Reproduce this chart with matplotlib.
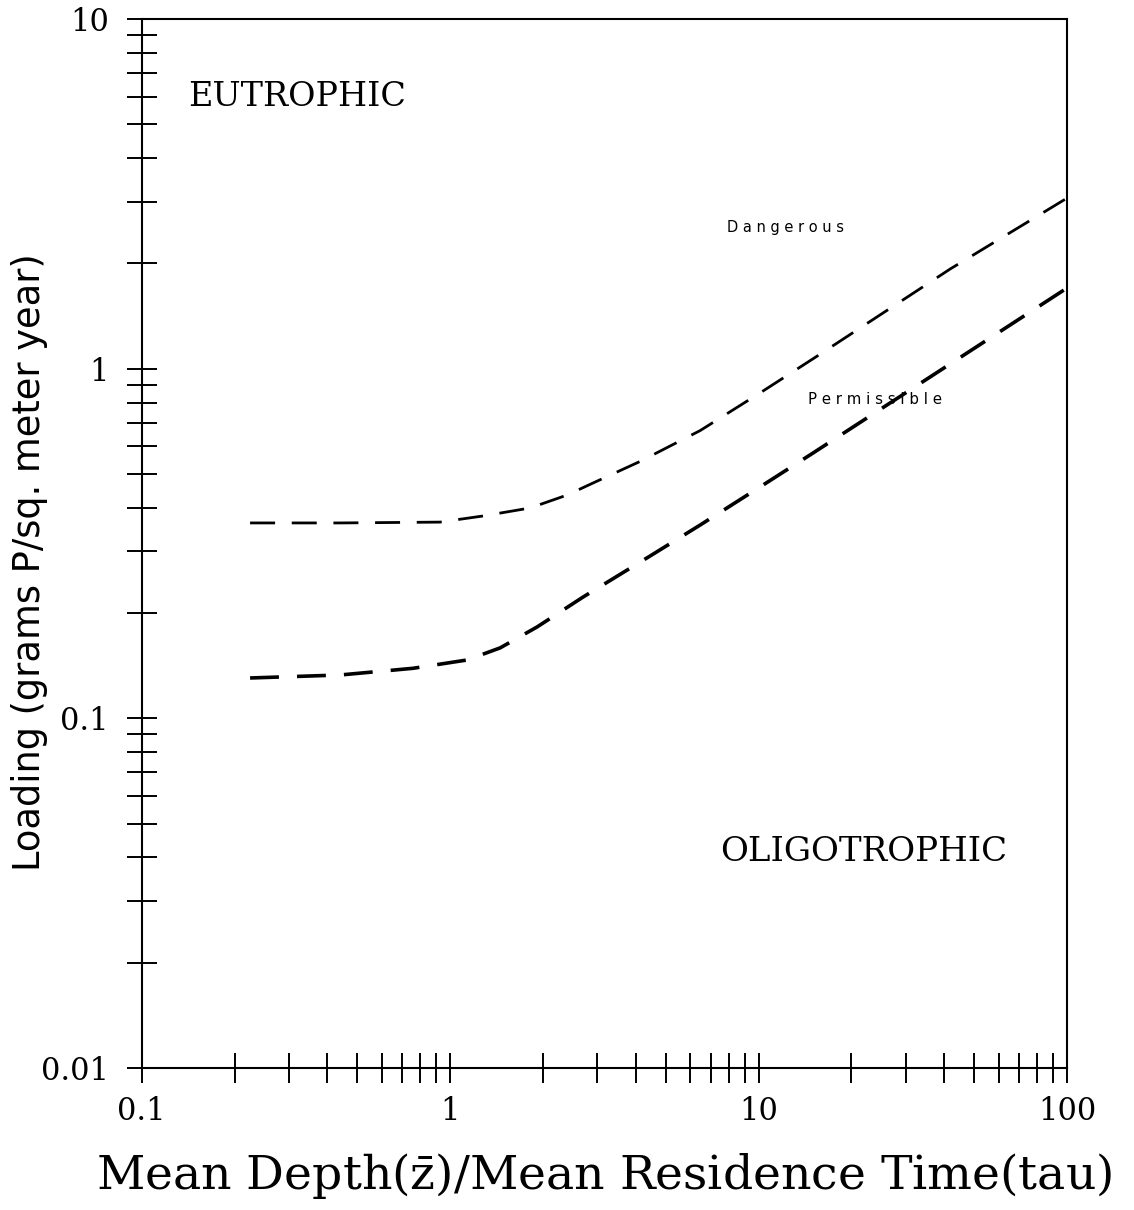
import matplotlib.pyplot as plt

# phosphorus loading limits vs. mean depth / residence time
ratio_dangerous = [0.2245, 0.4395, 0.927, 1.278, 1.816, 2.393, 2.906, 4.13, 6.46, 10.1, 15.5, 41.8, 100]
load_dangerous = [0.362, 0.362, 0.364, 0.379, 0.3995, 0.435, 0.471, 0.543, 0.665, 0.852, 1.087, 1.928, 3.075]

ratio_permissible = [0.2245, 0.4395, 0.758, 1.134, 1.452, 1.913, 2.698, 4.448, 6.46, 10.1, 15.02, 30.3, 100]
load_permissible = [0.1304, 0.133, 0.139, 0.1468, 0.159, 0.1825, 0.2223, 0.2912, 0.357, 0.4587, 0.574, 0.858, 1.701]

x_ticklabels = ["0.1", "1", "10", "100"]
y_ticklabels = ["0.01", "0.1", "1", "10"]

plt.rcParams["mathtext.fontset"] = "dejavuserif"

fig = plt.figure(figsize=(11.34, 12.10), dpi=100)
ax = fig.add_axes([0.125, 0.1174, 0.816, 0.8669])

ax.plot(ratio_dangerous, load_dangerous, color="black", lw=2.0, dashes=(9, 6))
ax.plot(ratio_permissible, load_permissible, color="black", lw=2.6, dashes=(8, 5))

ax.set_xscale("log")
ax.set_yscale("log")
ax.set_xlim(0.1, 100)
ax.set_ylim(0.01, 10)

ax.set_xticks([0.1, 1, 10, 100])
ax.set_xticklabels(x_ticklabels)
ax.set_yticks([0.01, 0.1, 1, 10])
ax.set_yticklabels(y_ticklabels)

for axis in (ax.xaxis, ax.yaxis):
    axis.set_minor_locator(plt.matplotlib.ticker.LogLocator(base=10, subs=range(2, 10)))
    axis.set_minor_formatter(plt.NullFormatter())

ax.tick_params(which="both", direction="inout", length=21, width=1.4, top=False, right=False)
ax.tick_params(axis="x", which="major", pad=10, labelsize=22)
ax.tick_params(axis="y", which="major", pad=13, labelsize=22)
for lab in ax.get_xticklabels() + ax.get_yticklabels():
    lab.set_family("DejaVu Serif")

for side in ax.spines.values():
    side.set_linewidth(1.5)

ax.set_xlabel(r"Mean Depth($\bar{\mathrm{z}}$)/Mean Residence Time(tau)",
              family="DejaVu Serif", fontsize=34, labelpad=17)
ax.set_ylabel("Loading (grams P/sq. meter year)", family="DejaVu Sans", fontsize=26.5)
ax.yaxis.set_label_coords(-0.101, 0.482)

ax.text(0.1413, 5.98, "EUTROPHIC", family="DejaVu Serif", fontsize=24, ha="left", va="center")
ax.text(7.5, 0.0415, "OLIGOTROPHIC", family="DejaVu Serif", fontsize=24.5, ha="left", va="center")
ax.text(7.91, 2.525, "D a n g e r o u s", family="DejaVu Sans", fontsize=10.5, ha="left", va="center")
ax.text(14.5, 0.814, "P e r m i s s i b l e", family="DejaVu Sans", fontsize=10.8, ha="left", va="center")

fig.savefig("out.png", dpi=100, facecolor="white")
